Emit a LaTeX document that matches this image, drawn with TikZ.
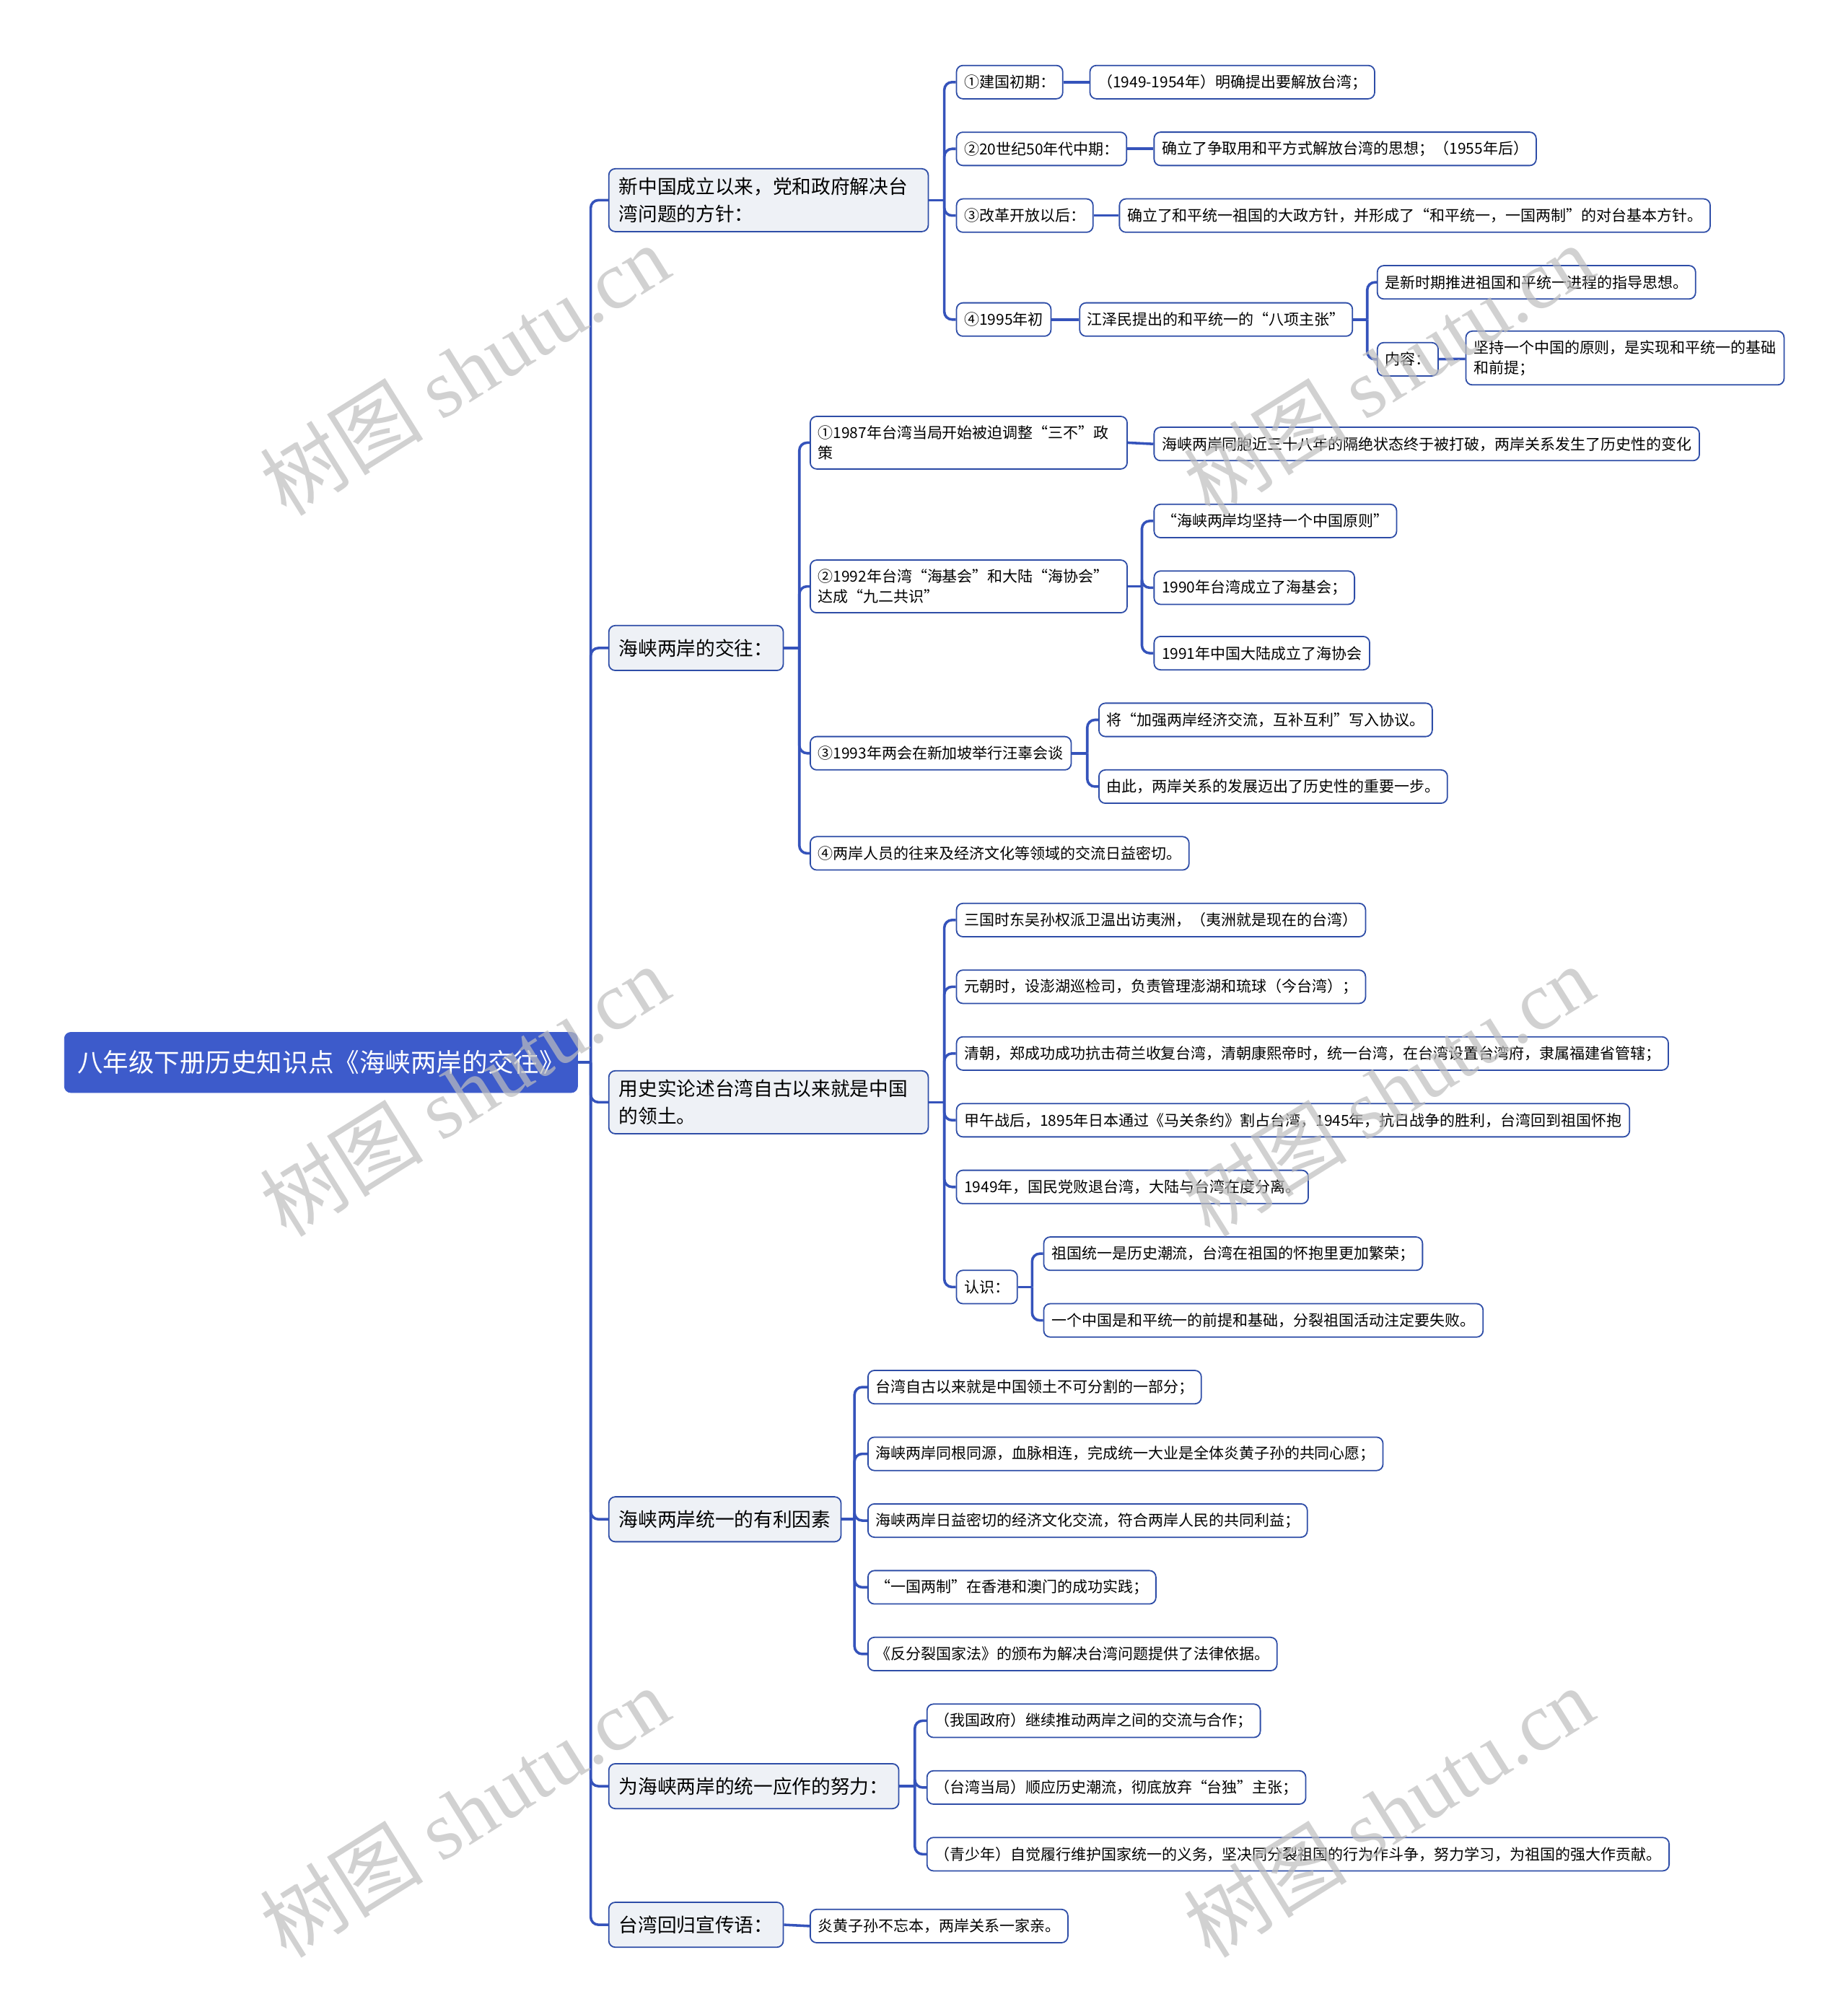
\documentclass[tikz,border=0pt]{standalone}
\usepackage{fontspec}
\setmainfont{Noto Sans CJK SC}
\newfontfamily\wmlatin{Liberation Serif}
\usepackage{tikz}

\definecolor{rootblue}{HTML}{3D5BCB}
\definecolor{lineblue}{HTML}{2E4DA7}
\definecolor{connblue}{HTML}{3553BB}
\definecolor{mainfill}{HTML}{EEF1F6}
\definecolor{wmgray}{HTML}{BEBEBE}

\begin{document}
\begin{tikzpicture}[x=1pt, y=-1pt,
  rootbox/.style={fill=rootblue, draw=rootblue, rounded corners=5pt, text=white,
    font=\fontsize{20}{24}\selectfont, inner xsep=10pt, minimum height=47pt, anchor=west},
  mainbox/.style={fill=mainfill, draw=lineblue, line width=1pt, rounded corners=5pt,
    font=\fontsize{15}{21}\selectfont, inner xsep=8pt, inner ysep=7pt,
    minimum height=35pt, anchor=west, align=left},
  subbox/.style={fill=white, draw=lineblue, line width=1pt, rounded corners=5pt,
    font=\fontsize{11.8}{16}\selectfont, inner xsep=6pt, inner ysep=7pt,
    minimum height=26pt, anchor=west, align=left},
  conn/.style={draw=connblue, line width=2pt, rounded corners=6pt},
  watermark/.style={text=wmgray, opacity=0.7, rotate=32, font=\fontsize{64}{64}\selectfont}]

\useasboundingbox (0,0) rectangle (1440,1568);

% Root
\node[rootbox] (root) at (50,828) {八年级下册历史知识点《海峡两岸的交往》};

% Main topics
\node[mainbox, text width=233pt] (n1) at (474,156) {新中国成立以来，党和政府解决台\\湾问题的方针：};
\node[mainbox] (n2) at (474,505) {海峡两岸的交往：};
\node[mainbox, text width=233pt] (n3) at (474,859) {用史实论述台湾自古以来就是中国\\的领土。};
\node[mainbox] (n4) at (474,1184) {海峡两岸统一的有利因素};
\node[mainbox] (n5) at (474,1392) {为海峡两岸的统一应作的努力：};
\node[mainbox] (n6) at (474,1500) {台湾回归宣传语：};

% Topic 1
\node[subbox] (c11) at (745,64) {①建国初期：};
\node[subbox] (d11) at (849,64) {（1949-1954年）明确提出要解放台湾；};
\node[subbox] (c12) at (745,116) {②20世纪50年代中期：};
\node[subbox] (d12) at (899,116) {确立了争取用和平方式解放台湾的思想；（1955年后）};
\node[subbox] (c13) at (745,168) {③改革开放以后：};
\node[subbox] (d13) at (872,168) {确立了和平统一祖国的大政方针，并形成了“和平统一，一国两制”的对台基本方针。};
\node[subbox] (c14) at (745,249) {④1995年初};
\node[subbox] (d14) at (841,249) {江泽民提出的和平统一的“八项主张”};
\node[subbox] (e141) at (1073,220) {是新时期推进祖国和平统一进程的指导思想。};
\node[subbox] (e142) at (1073,280) {内容：};
\node[subbox, text width=236pt] (f142) at (1142,279) {坚持一个中国的原则，是实现和平统一的基础\\和前提；};

% Topic 2
\node[subbox, text width=235pt] (c21) at (631,345) {①1987年台湾当局开始被迫调整“三不”政\\策};
\node[subbox] (d21) at (899,346) {海峡两岸同胞近三十八年的隔绝状态终于被打破，两岸关系发生了历史性的变化};
\node[subbox, text width=235pt] (c22) at (631,457) {②1992年台湾“海基会”和大陆“海协会”\\达成“九二共识”};
\node[subbox] (d221) at (899,406) {“海峡两岸均坚持一个中国原则”};
\node[subbox] (d222) at (899,458) {1990年台湾成立了海基会；};
\node[subbox] (d223) at (899,509) {1991年中国大陆成立了海协会};
\node[subbox] (c23) at (631,587) {③1993年两会在新加坡举行汪辜会谈};
\node[subbox] (d231) at (856,561) {将“加强两岸经济交流，互补互利”写入协议。};
\node[subbox] (d232) at (856,613) {由此，两岸关系的发展迈出了历史性的重要一步。};
\node[subbox] (c24) at (631,665) {④两岸人员的往来及经济文化等领域的交流日益密切。};

% Topic 3
\node[subbox] (c31) at (745,717) {三国时东吴孙权派卫温出访夷洲，（夷洲就是现在的台湾）};
\node[subbox] (c32) at (745,769) {元朝时，设澎湖巡检司，负责管理澎湖和琉球（今台湾）；};
\node[subbox] (c33) at (745,821) {清朝，郑成功成功抗击荷兰收复台湾，清朝康熙帝时，统一台湾，在台湾设置台湾府，隶属福建省管辖；};
\node[subbox] (c34) at (745,873) {甲午战后，1895年日本通过《马关条约》割占台湾，1945年，抗日战争的胜利，台湾回到祖国怀抱};
\node[subbox] (c35) at (745,925) {1949年，国民党败退台湾，大陆与台湾在度分离。};
\node[subbox] (c36) at (745,1003) {认识：};
\node[subbox] (d361) at (813,977) {祖国统一是历史潮流，台湾在祖国的怀抱里更加繁荣；};
\node[subbox] (d362) at (813,1029) {一个中国是和平统一的前提和基础，分裂祖国活动注定要失败。};

% Topic 4
\node[subbox] (c41) at (676,1081) {台湾自古以来就是中国领土不可分割的一部分；};
\node[subbox] (c42) at (676,1133) {海峡两岸同根同源，血脉相连，完成统一大业是全体炎黄子孙的共同心愿；};
\node[subbox] (c43) at (676,1185) {海峡两岸日益密切的经济文化交流，符合两岸人民的共同利益；};
\node[subbox] (c44) at (676,1237) {“一国两制”在香港和澳门的成功实践；};
\node[subbox] (c45) at (676,1289) {《反分裂国家法》的颁布为解决台湾问题提供了法律依据。};

% Topic 5
\node[subbox] (c51) at (722,1341) {（我国政府）继续推动两岸之间的交流与合作；};
\node[subbox] (c52) at (722,1393) {（台湾当局）顺应历史潮流，彻底放弃“台独”主张；};
\node[subbox] (c53) at (722,1445) {（青少年）自觉履行维护国家统一的义务，坚决同分裂祖国的行为作斗争，努力学习，为祖国的强大作贡献。};

% Topic 6
\node[subbox] (c61) at (631,1501) {炎黄子孙不忘本，两岸关系一家亲。};

% Trunk from the root
\draw[conn] (root.east) -- ++(10pt,0) coordinate (j0);
\draw[conn] (j0) |- (n1.west);
\draw[conn] (j0) |- (n2.west);
\draw[conn] (j0) |- (n3.west);
\draw[conn] (j0) |- (n4.west);
\draw[conn] (j0) |- (n5.west);
\draw[conn] (j0) |- (n6.west);

% Topic 1 connectors
\draw[conn] (n1.east) -- ++(12pt,0) coordinate (j1);
\draw[conn] (j1) |- (c11.west);
\draw[conn] (j1) |- (c12.west);
\draw[conn] (j1) |- (c13.west);
\draw[conn] (j1) |- (c14.west);
\draw[conn] (c11) -- (d11);
\draw[conn] (c12) -- (d12);
\draw[conn] (c13) -- (d13);
\draw[conn] (c14) -- (d14);
\draw[conn] (d14.east) -- ++(11pt,0) coordinate (j14);
\draw[conn] (j14) |- (e141.west);
\draw[conn] (j14) |- (e142.west);
\draw[conn] (e142) -- (f142);

% Topic 2 connectors
\draw[conn] (n2.east) -- ++(12pt,0) coordinate (j2);
\draw[conn] (j2) |- (c21.west);
\draw[conn] (j2) |- (c22.west);
\draw[conn] (j2) |- (c23.west);
\draw[conn] (j2) |- (c24.west);
\draw[conn] (c21.east) -- (d21.west);
\draw[conn] (c22.east) -- ++(11pt,0) coordinate (j22);
\draw[conn] (j22) |- (d221.west);
\draw[conn] (j22) |- (d222.west);
\draw[conn] (j22) |- (d223.west);
\draw[conn] (c23.east) -- ++(12pt,0) coordinate (j23);
\draw[conn] (j23) |- (d231.west);
\draw[conn] (j23) |- (d232.west);

% Topic 3 connectors
\draw[conn] (n3.east) -- ++(12pt,0) coordinate (j3);
\draw[conn] (j3) |- (c31.west);
\draw[conn] (j3) |- (c32.west);
\draw[conn] (j3) |- (c33.west);
\draw[conn] (j3) |- (c34.west);
\draw[conn] (j3) |- (c35.west);
\draw[conn] (j3) |- (c36.west);
\draw[conn] (c36.east) -- ++(11pt,0) coordinate (j36);
\draw[conn] (j36) |- (d361.west);
\draw[conn] (j36) |- (d362.west);

% Topic 4 connectors
\draw[conn] (n4.east) -- ++(10pt,0) coordinate (j4);
\draw[conn] (j4) |- (c41.west);
\draw[conn] (j4) |- (c42.west);
\draw[conn] (j4) |- (c43.west);
\draw[conn] (j4) |- (c44.west);
\draw[conn] (j4) |- (c45.west);

% Topic 5 connectors
\draw[conn] (n5.east) -- ++(12pt,0) coordinate (j5);
\draw[conn] (j5) |- (c51.west);
\draw[conn] (j5) |- (c52.west);
\draw[conn] (j5) |- (c53.west);

% Topic 6 connector
\draw[conn] (n6.east) -- (c61.west);

% Watermarks
\node[watermark] (wm1) at (362,288) {树图 {\wmlatin shutu.cn}};
\node[watermark] (wm2) at (1082,288) {树图 {\wmlatin shutu.cn}};
\node[watermark] (wm3) at (362,850) {树图 {\wmlatin shutu.cn}};
\node[watermark] (wm4) at (1082,850) {树图 {\wmlatin shutu.cn}};
\node[watermark] (wm5) at (362,1412) {树图 {\wmlatin shutu.cn}};
\node[watermark] (wm6) at (1082,1412) {树图 {\wmlatin shutu.cn}};

\end{tikzpicture}
\end{document}
